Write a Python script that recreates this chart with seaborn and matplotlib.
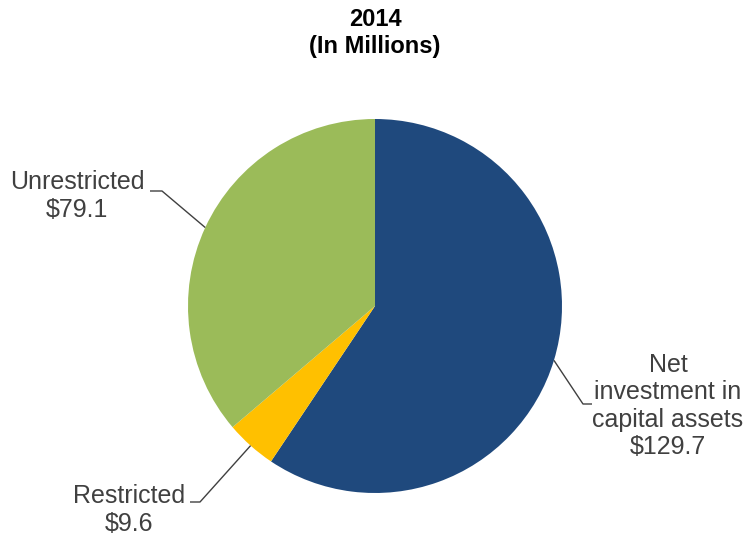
import numpy as np
import matplotlib
matplotlib.use("Agg")
import matplotlib.pyplot as plt
import seaborn as sns

# Net position components, 2014 (in millions)
categories = ["Net\ninvestment in\ncapital assets", "Restricted", "Unrestricted"]
values = [129.7, 9.6, 79.1]
value_labels = ["$129.7", "$9.6", "$79.1"]
colors = ["#1F497D", "#FFC000", "#9BBB59"]

sns.set_theme(style="white")
plt.rcParams["font.family"] = ["Liberation Sans", "DejaVu Sans"]

W, H = 748, 540
fig = plt.figure(figsize=(W / 100, H / 100), dpi=100)
ax = fig.add_axes([0, 0, 1, 1])

cx, cy, r = 375, H - 306, 187
wedges, _ = ax.pie(values, colors=colors, startangle=90, counterclock=False,
                   center=(cx, cy), radius=r, frame=True,
                   wedgeprops=dict(linewidth=0))
ax.set_xlim(0, W)
ax.set_ylim(0, H)
ax.set_aspect("equal")
ax.axis("off")

text_color = "#404040"
line_color = "#404040"

# label centre, elbow point, end of horizontal stub (pixel coords from top)
layout = [
    dict(text=(668, 406), elbow=(583, 404), stub=(592, 404)),
    dict(text=(129, 510), elbow=(200, 502), stub=(190, 502)),
    dict(text=(77, 196), elbow=(162, 191), stub=(150, 191)),
]

for w, cat, val, lay in zip(wedges, categories, value_labels, layout):
    mid = np.deg2rad((w.theta1 + w.theta2) / 2)
    ax_pt = (cx + r * np.cos(mid), cy + r * np.sin(mid))
    ex, ey = lay["elbow"]
    sx, sy = lay["stub"]
    ax.plot([ax_pt[0], ex, sx], [ax_pt[1], H - ey, H - sy],
            color=line_color, linewidth=1.0, solid_capstyle="butt")
    tx, ty = lay["text"]
    ax.text(tx, H - ty, f"{cat}\n{val}", ha="center", va="center",
            fontsize=18, color=text_color, linespacing=1.17)

fig.text(375 / W, 1 - 20 / H, "2014", ha="center", va="center",
         fontsize=17, fontweight="bold", color="black")
fig.text(375 / W, 1 - 47 / H, "(In Millions)", ha="center", va="center",
         fontsize=17, fontweight="bold", color="black")

fig.savefig("out.png", dpi=100)
